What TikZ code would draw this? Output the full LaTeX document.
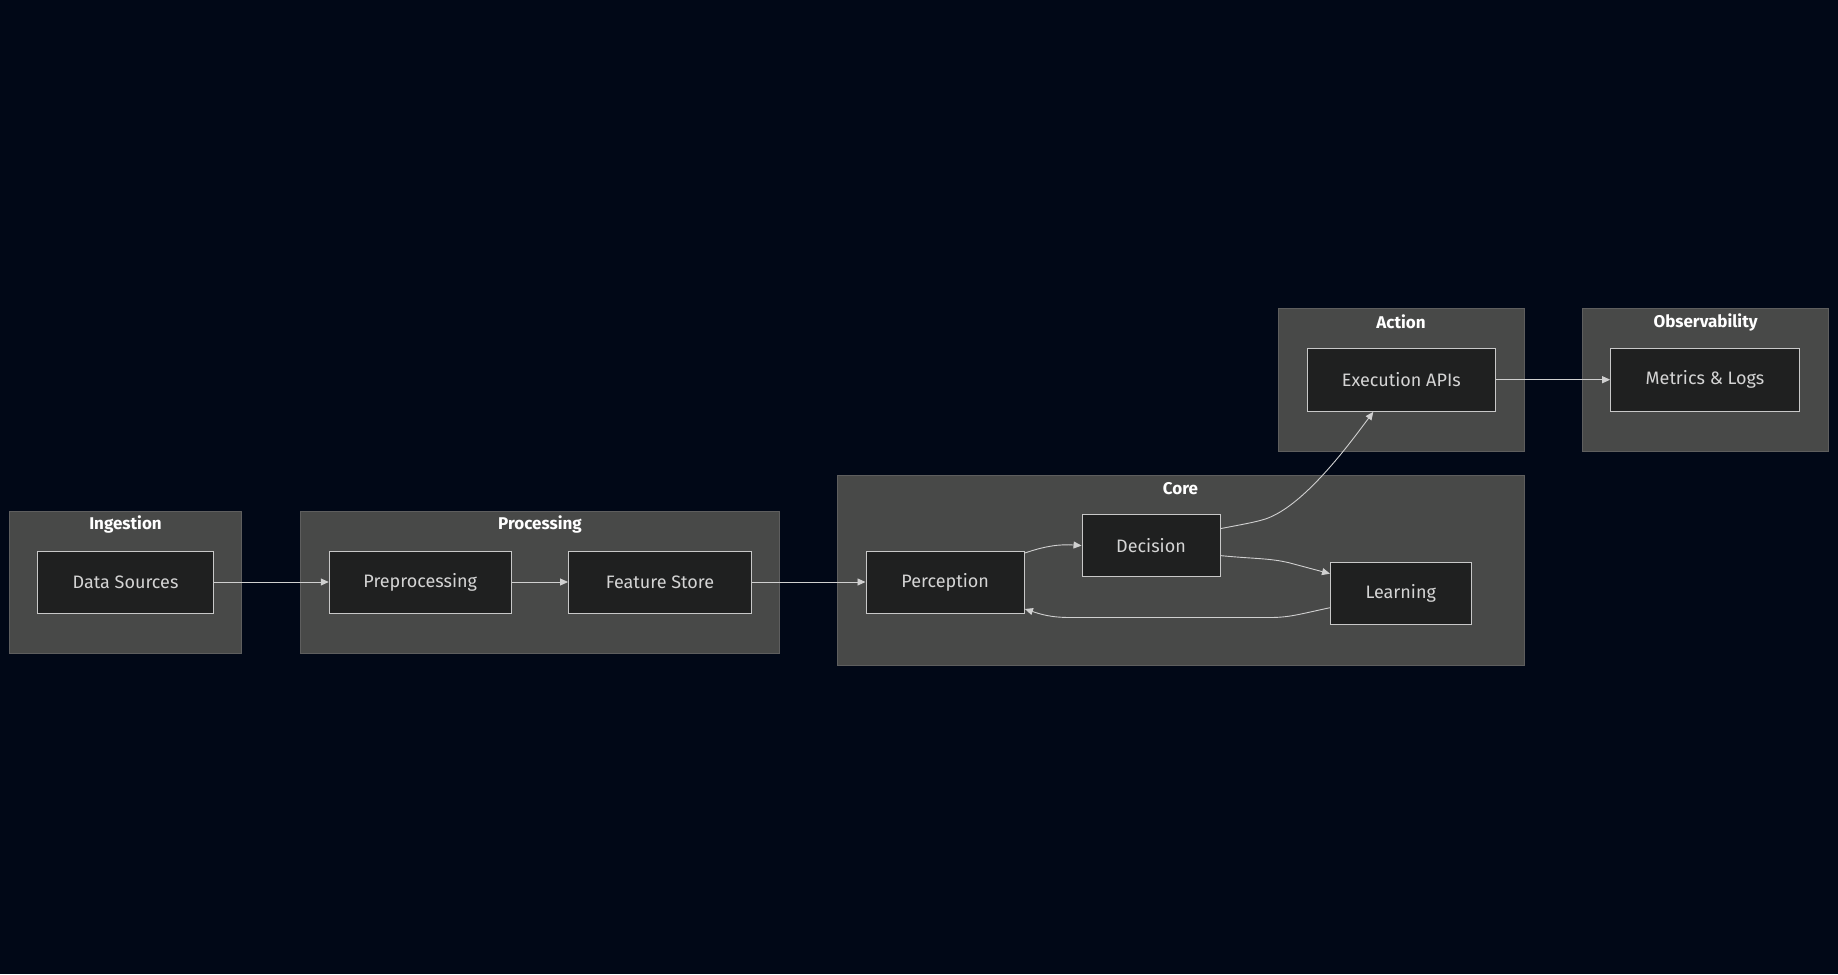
\documentclass[tikz,border=0pt]{standalone}
\usepackage{fontspec}
\setmainfont{Fira Sans}
\usetikzlibrary{arrows.meta}
\definecolor{bg}{HTML}{010817}
\definecolor{clfill}{HTML}{484948}
\definecolor{cldraw}{HTML}{5E5E5E}
\definecolor{ndfill}{HTML}{1F2020}
\definecolor{nddraw}{HTML}{C8C8C8}
\definecolor{ndtext}{HTML}{D4D4D4}
\definecolor{edge}{HTML}{D0D0D0}
\tikzset{
  cluster/.style={draw=cldraw, fill=clfill, line width=0.8pt},
  cltitle/.style={text=white, font=\fontsize{17}{20}\selectfont\bfseries, anchor=center},
  box/.style={draw=nddraw, fill=ndfill, line width=0.9pt, text=ndtext, font=\fontsize{18}{21}\selectfont},
  conn/.style={draw=edge, line width=0.9pt, -{Triangle[length=8pt,width=7pt]}}
}
\begin{document}
\begin{tikzpicture}[x=1pt,y=-1pt]
\fill[bg] (0,0) rectangle (1838,974);
\useasboundingbox (0,0) rectangle (1838,974);
% clusters
\draw[cluster] (9.5,511) rectangle (241.5,653);
\node[cltitle] (tIng) at (125.5,524) {Ingestion};
\draw[cluster] (300,511) rectangle (779.5,653);
\node[cltitle] (tProc) at (540,524) {Processing};
\draw[cluster] (837,475) rectangle (1524,665);
\node[cltitle] (tCore) at (1180.5,489) {Core};
\draw[cluster] (1278,308) rectangle (1524,451);
\node[cltitle] (tAct) at (1401,322) {Action};
\draw[cluster] (1582.5,308) rectangle (1828.5,451);
\node[cltitle] (tObs) at (1705.5,322) {Observability};
% nodes
\node[box, minimum width=176pt, minimum height=62pt] (ds) at (125.5,582) {Data Sources};
\node[box, minimum width=182pt, minimum height=62pt] (pre) at (420.2,582) {Preprocessing};
\node[box, minimum width=183pt, minimum height=62pt] (fs) at (660,582) {Feature Store};
\node[box, minimum width=158.5pt, minimum height=62pt] (per) at (945.2,582) {Perception};
\node[box, minimum width=138pt, minimum height=62pt] (dec) at (1151,545.6) {Decision};
\node[box, minimum width=140.5pt, minimum height=62pt] (lea) at (1400.7,593.7) {Learning};
\node[box, minimum width=188.7pt, minimum height=63.4pt] (exe) at (1401.3,379.7) {Execution APIs};
\node[box, minimum width=188.7pt, minimum height=63.4pt] (met) at (1705,379.7) {Metrics \& Logs};
% edges
\draw[conn] (ds.east) -- (pre.west);
\draw[conn] (pre.east) -- (fs.west);
\draw[conn] (fs.east) -- (per.west);
\draw[conn] (exe.east) -- (met.west);
\draw[conn] ([yshift=29pt]per.east) .. controls (1045,546) and (1060,544) .. (dec.west);
\draw[conn] ([yshift=17pt]dec.east) .. controls (1245,524) and (1255,522) .. (1262,520)
  .. controls (1300,510) and (1345,450) .. ([xshift=-28pt]exe.south);
\draw[conn] ([yshift=-10pt]dec.east) .. controls (1255,559) and (1270,558) .. (1290,563)
  -- ([yshift=20pt]lea.west);
\draw[conn] ([yshift=-14pt]lea.west) .. controls (1300,614) and (1290,617.5) .. (1270,617.5)
  -- (1070,617.5) .. controls (1050,617.5) and (1040,614) .. ([yshift=-27pt]per.east);
\end{tikzpicture}
\end{document}
